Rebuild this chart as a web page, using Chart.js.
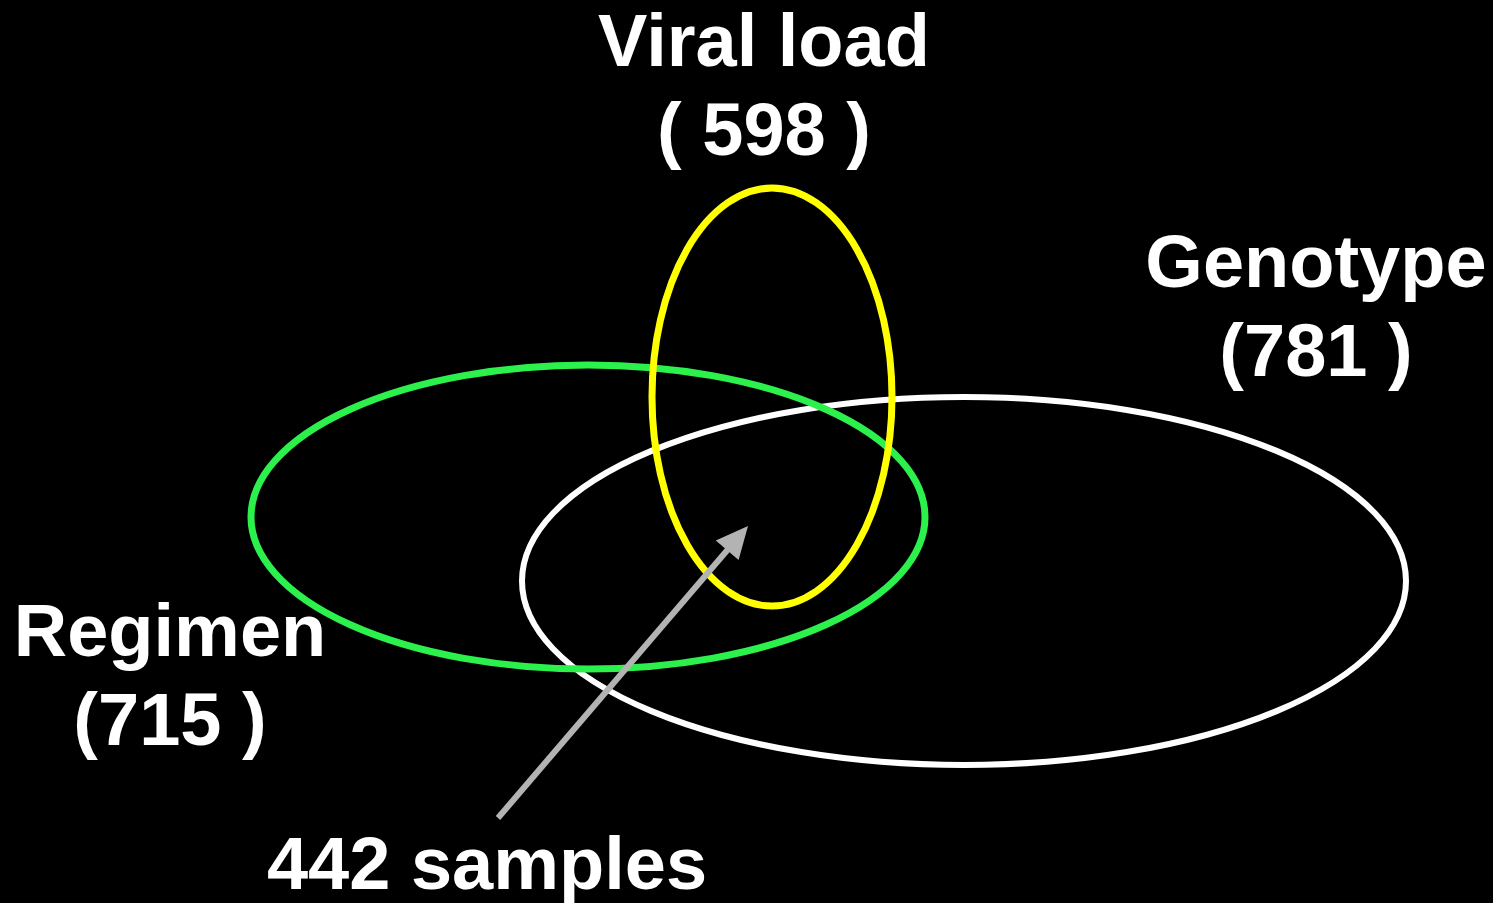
<!DOCTYPE html>
<html lang="en">
<head>
  <meta charset="UTF-8" />
  <title>Sample overlap</title>
  <script src="https://cdn.jsdelivr.net/npm/chart.js"></script>
  <style>
    html, body { margin: 0; padding: 0; background: #000; }
    #wrap { width: 1493px; height: 903px; }
  </style>
</head>
<body>
  <div id="wrap"><canvas id="venn"></canvas></div>

  <script>
    // sets and counts
    const setNames = ["Viral load", "Genotype", "Regimen"];
    const setCounts = [598, 781, 715];
    const overlapLabel = "442 samples";

    // ellipse geometry in plot units (x 0..1493, y 0..903 from top)
    const centerX = [772, 964, 588];
    const centerY = [397, 581, 517];
    const radiusX = [120, 442, 337];
    const radiusY = [209, 184, 152];

    // label anchors
    const labelX = [764, 1316, 170];
    const labelY = [66, 287, 656];
    const countLabels = ["( 598 )", "(781 )", "(715 )"];

    // arrow from the "442 samples" label to the shared region
    const arrowFrom = { x: 498, y: 818 };
    const arrowTo = { x: 748, y: 526 };

    const ringColors = ["#ffff00", "#ffffff", "#2cf04c"];
    const ringWidths = [7, 6, 7];

    const vennPlugin = {
      id: "venn",
      beforeDraw(chart) {
        const c = chart.ctx;
        c.save();
        c.fillStyle = "#000";
        c.fillRect(0, 0, chart.width, chart.height);
        c.restore();
      },
      afterDatasetsDraw(chart) {
        const c = chart.ctx;
        const xs = chart.scales.x, ys = chart.scales.y;
        c.save();
        // draw white first, then green, then yellow on top
        [1, 2, 0].forEach(i => {
          const px = xs.getPixelForValue(centerX[i]);
          const py = ys.getPixelForValue(centerY[i]);
          const rx = Math.abs(xs.getPixelForValue(centerX[i] + radiusX[i]) - px);
          const ry = Math.abs(ys.getPixelForValue(centerY[i] + radiusY[i]) - py);
          c.beginPath();
          c.ellipse(px, py, rx, ry, 0, 0, Math.PI * 2);
          c.strokeStyle = ringColors[i];
          c.lineWidth = ringWidths[i];
          c.stroke();
        });

        // arrow shaft + head
        const x0 = xs.getPixelForValue(arrowFrom.x), y0 = ys.getPixelForValue(arrowFrom.y);
        const x1 = xs.getPixelForValue(arrowTo.x), y1 = ys.getPixelForValue(arrowTo.y);
        const ang = Math.atan2(y1 - y0, x1 - x0);
        const headLen = 32, headHalf = 15;
        const bx = x1 - headLen * Math.cos(ang), by = y1 - headLen * Math.sin(ang);
        c.strokeStyle = "#b3b3b3";
        c.fillStyle = "#b3b3b3";
        c.lineWidth = 6;
        c.beginPath();
        c.moveTo(x0, y0);
        c.lineTo(bx + 2 * Math.cos(ang), by + 2 * Math.sin(ang));
        c.stroke();
        c.beginPath();
        c.moveTo(x1, y1);
        c.lineTo(bx + headHalf * Math.sin(ang), by - headHalf * Math.cos(ang));
        c.lineTo(bx - headHalf * Math.sin(ang), by + headHalf * Math.cos(ang));
        c.closePath();
        c.fill();

        // labels
        c.fillStyle = "#fff";
        c.font = "bold 74px 'Liberation Sans', Arial, sans-serif";
        c.textAlign = "center";
        c.textBaseline = "alphabetic";
        setNames.forEach((name, i) => {
          const lx = xs.getPixelForValue(labelX[i]);
          const ly = ys.getPixelForValue(labelY[i]);
          c.fillText(name, lx, ly);
          c.fillText(countLabels[i], lx, ly + 89);
        });
        c.fillText(overlapLabel, xs.getPixelForValue(487), ys.getPixelForValue(889));
        c.restore();
      }
    };

    new Chart(document.getElementById("venn"), {
      type: "scatter",
      data: {
        datasets: [{
          label: "sets",
          data: setCounts.map((n, i) => ({ x: centerX[i], y: centerY[i] })),
          pointRadius: 0,
          showLine: false
        }]
      },
      options: {
        responsive: true,
        maintainAspectRatio: false,
        animation: false,
        layout: { padding: 0 },
        plugins: { legend: { display: false }, tooltip: { enabled: false } },
        scales: {
          x: { type: "linear", min: 0, max: 1493, display: false },
          y: { type: "linear", min: 0, max: 903, reverse: true, display: false }
        }
      },
      plugins: [vennPlugin]
    });
  </script>
</body>
</html>
